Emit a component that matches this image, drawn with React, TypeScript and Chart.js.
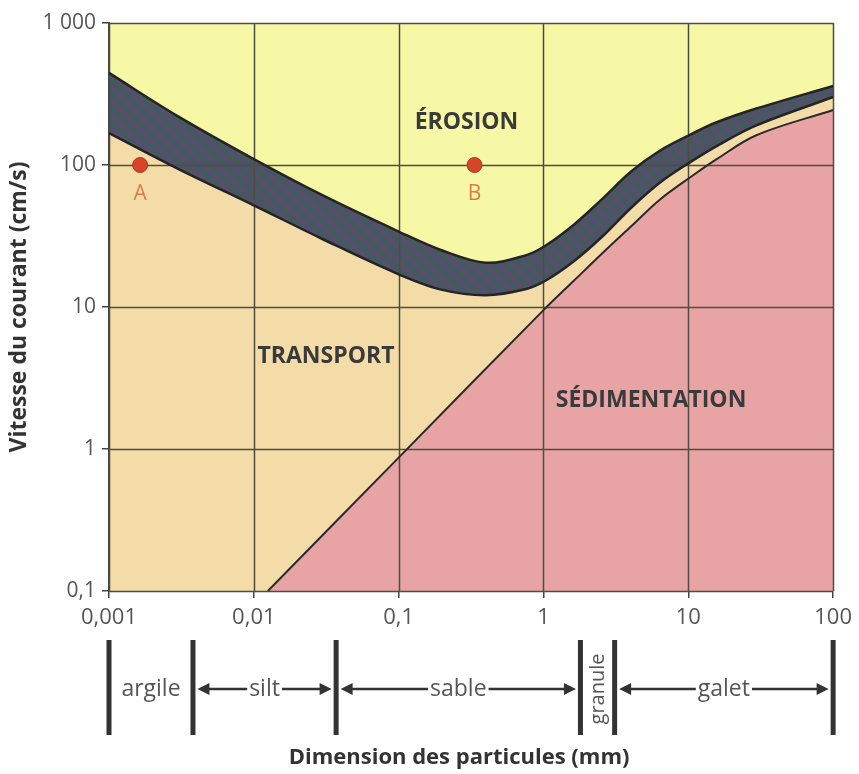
import React, { useEffect, useRef } from "react";
import { Chart, registerables } from "chart.js";

Chart.register(...registerables);

// ---- Data ----
const xTickValues = [0.001, 0.01, 0.1, 1, 10, 100];
const xTickLabels = ["0,001", "0,01", "0,1", "1", "10", "100"];
const yTickValues = [0.1, 1, 10, 100, 1000];
const yTickLabels = ["0,1", "1", "10", "100", "1 000"];

// Erosion band (cm/s) vs particle diameter (mm)
const bandD = [0.001, 0.003, 0.01, 0.03, 0.1, 0.2, 0.4, 0.76, 1.03, 1.62, 2.56, 4.03, 6.35, 10.5, 15.7, 29.5, 100];
const bandTopV = [445, 220, 110, 61, 34, 25, 20.5, 23.2, 27, 38, 58, 90, 126, 165, 200, 250, 360];
const bandBottomV = [168, 94, 52, 30, 17, 13.2, 12.1, 13.4, 15.3, 21, 31.5, 50, 75, 106, 136, 190, 301];

// Sedimentation limit
const sedD = [0.0125, 0.1, 1, 1.62, 2.56, 4.03, 6.35, 10.5, 15.7, 29.5, 100];
const sedV = [0.1, 0.87, 9.5, 15.3, 24, 37, 57, 83, 110, 162, 244];

// Example points
const pointNames = ["A", "B"];
const pointD = [0.00164, 0.334];
const pointV = [100, 100];

// Region labels
const regionNames = ["ÉROSION", "TRANSPORT", "SÉDIMENTATION"];
const regionD = [0.294, 0.0315, 5.53];
const regionV = [199, 4.48, 2.2];

// Grain size classes (mm)
const classBounds = [0.001, 0.0038, 0.037, 1.8, 3.1, 100];
const classNames = ["argile", "silt", "sable", "granule", "galet"];
const classArrows = [false, true, true, false, true];

const xTitle = "Dimension des particules (mm)";
const yTitle = "Vitesse du courant (cm/s)";

const FONT = "'Open Sans', 'DejaVu Sans', sans-serif";

function makeBandPattern(): CanvasPattern | string {
  const c = document.createElement("canvas");
  c.width = 14;
  c.height = 14;
  const g = c.getContext("2d");
  if (!g) return "#4c5064";
  g.fillStyle = "#554e6c";
  g.fillRect(0, 0, 14, 14);
  g.fillStyle = "#435a5c";
  g.beginPath();
  g.moveTo(0, 0);
  g.lineTo(7, 0);
  g.lineTo(14, 7);
  g.lineTo(14, 14);
  g.closePath();
  g.fill();
  g.beginPath();
  g.moveTo(0, 7);
  g.lineTo(7, 14);
  g.lineTo(0, 14);
  g.closePath();
  g.fill();
  const p = g.createPattern(c, "repeat");
  return p || "#4c5064";
}

const overlayPlugin = {
  id: "overlay",
  beforeDatasetsDraw(chart: any) {
    const { ctx, chartArea: a, scales } = chart;
    ctx.save();
    ctx.strokeStyle = "#4d4d40";
    ctx.lineWidth = 1.5;
    xTickValues.forEach((v) => {
      const x = Math.round(scales.x.getPixelForValue(v)) + 0.5;
      ctx.beginPath();
      ctx.moveTo(x, a.top);
      ctx.lineTo(x, a.bottom);
      ctx.stroke();
    });
    yTickValues.forEach((v) => {
      const y = Math.round(scales.y.getPixelForValue(v)) + 0.5;
      ctx.beginPath();
      ctx.moveTo(a.left, y);
      ctx.lineTo(a.right, y);
      ctx.stroke();
    });
    ctx.restore();
  },
  afterDatasetsDraw(chart: any) {
    const { ctx, scales } = chart;
    ctx.save();
    ctx.textAlign = "center";
    ctx.textBaseline = "middle";
    ctx.fillStyle = "#3a3a3a";
    ctx.font = `bold 23px ${FONT}`;
    regionNames.forEach((n, i) => {
      ctx.fillText(n, scales.x.getPixelForValue(regionD[i]), scales.y.getPixelForValue(regionV[i]));
    });
    ctx.fillStyle = "#e07a48";
    ctx.font = `21px ${FONT}`;
    pointNames.forEach((n, i) => {
      ctx.fillText(n, scales.x.getPixelForValue(pointD[i]), scales.y.getPixelForValue(pointV[i]) + 29);
    });
    ctx.restore();
  },
  afterDraw(chart: any) {
    const { ctx, chartArea: a, scales } = chart;
    const top = a.bottom + 49;
    const bottom = a.bottom + 144;
    const mid = a.bottom + 98;
    ctx.save();
    ctx.fillStyle = "#333";
    const px = classBounds.map((b) => scales.x.getPixelForValue(b));
    px.forEach((x) => ctx.fillRect(x - 2.5, top, 5, bottom - top));
    ctx.font = `23px ${FONT}`;
    ctx.textBaseline = "middle";
    ctx.textAlign = "center";
    classNames.forEach((n, i) => {
      const x0 = px[i] + 2.5;
      const x1 = px[i + 1] - 2.5;
      const cx = (x0 + x1) / 2;
      if (n === "granule") {
        ctx.save();
        ctx.translate(cx + 1, mid);
        ctx.rotate(-Math.PI / 2);
        ctx.font = `20px ${FONT}`;
        ctx.fillStyle = "#555";
        ctx.fillText(n, 0, 0);
        ctx.restore();
        return;
      }
      ctx.fillStyle = "#555";
      ctx.fillText(n, cx, mid);
      if (classArrows[i]) {
        const w = ctx.measureText(n).width;
        ctx.strokeStyle = "#333";
        ctx.fillStyle = "#333";
        ctx.lineWidth = 2.5;
        const l1 = cx - w / 2 - 2;
        const r1 = cx + w / 2 + 2;
        ctx.beginPath();
        ctx.moveTo(x0 + 8, mid);
        ctx.lineTo(l1, mid);
        ctx.moveTo(r1, mid);
        ctx.lineTo(x1 - 8, mid);
        ctx.stroke();
        ctx.beginPath();
        ctx.moveTo(x0 + 2, mid);
        ctx.lineTo(x0 + 14, mid - 6);
        ctx.lineTo(x0 + 14, mid + 6);
        ctx.closePath();
        ctx.fill();
        ctx.beginPath();
        ctx.moveTo(x1 - 2, mid);
        ctx.lineTo(x1 - 14, mid - 6);
        ctx.lineTo(x1 - 14, mid + 6);
        ctx.closePath();
        ctx.fill();
      }
    });
    // x-axis title
    ctx.fillStyle = "#333";
    ctx.font = `bold 22px ${FONT}`;
    ctx.textBaseline = "middle";
    ctx.fillText(xTitle, (a.left + a.right) / 2 - 12, chart.height - 16);
    ctx.restore();
  },
};

const bgPlugin = {
  id: "bg",
  beforeDraw(chart: any) {
    const { ctx, chartArea: a } = chart;
    ctx.save();
    ctx.fillStyle = "#ffffff";
    ctx.fillRect(0, 0, chart.width, chart.height);
    ctx.fillStyle = "#f7f8a6";
    ctx.fillRect(a.left, a.top, a.right - a.left, a.bottom - a.top);
    ctx.restore();
  },
};

export default function App() {
  const ref = useRef<HTMLCanvasElement | null>(null);
  useEffect(() => {
    document.body.style.margin = "0";
    const canvas = ref.current;
    if (!canvas) return;
    const toPts = (xs: number[], ys: number[]) => xs.map((x, i) => ({ x, y: ys[i] }));
    const curve = {
      showLine: true,
      pointRadius: 0,
      fill: "start",
      tension: 0.35,
    };
    const chart = new Chart(canvas, {
      type: "scatter",
      data: {
        datasets: [
          {
            label: "points",
            data: toPts(pointD, pointV),
            pointRadius: 7.5,
            pointBackgroundColor: "#d8442a",
            pointBorderColor: "#a53a22",
            pointBorderWidth: 1,
            showLine: false,
          },
          {
            ...curve,
            label: "sedimentation",
            data: toPts(sedD, sedV),
            borderColor: "#2a2a2a",
            borderWidth: 2,
            backgroundColor: "#e8a3a5",
          },
          {
            ...curve,
            label: "band bottom",
            data: toPts(bandD, bandBottomV),
            borderColor: "#242424",
            borderWidth: 2.5,
            backgroundColor: "#f3dca8",
          },
          {
            ...curve,
            label: "band top",
            data: toPts(bandD, bandTopV),
            borderColor: "#242424",
            borderWidth: 2.5,
            backgroundColor: makeBandPattern() as any,
          },
        ],
      },
      options: {
        animation: false,
        responsive: false,
        layout: { padding: { left: 0, top: 23, right: 24, bottom: 0 } },
        plugins: {
          legend: { display: false },
          tooltip: { enabled: false },
          filler: { drawTime: "beforeDatasetsDraw" },
        } as any,
        scales: {
          x: {
            type: "logarithmic",
            min: 0.001,
            max: 100,
            afterBuildTicks: (axis: any) => {
              axis.ticks = xTickValues.map((v) => ({ value: v }));
            },
            afterFit: (s: any) => {
              s.height = 183;
            },
            ticks: {
              autoSkip: false,
              maxRotation: 0,
              padding: 7,
              color: "#555",
              font: { size: 22, family: FONT },
              callback: (_v: any, i: number) => xTickLabels[i],
            },
            grid: { drawOnChartArea: false, drawTicks: true, tickLength: 7, color: "#444", lineWidth: 1.5 },
            border: { display: true, color: "#444", width: 2 },
            title: { display: false },
          },
          y: {
            type: "logarithmic",
            min: 0.1,
            max: 1000,
            afterBuildTicks: (axis: any) => {
              axis.ticks = yTickValues.map((v) => ({ value: v }));
            },
            afterFit: (s: any) => {
              s.width = 109;
            },
            ticks: {
              autoSkip: false,
              padding: 6,
              color: "#555",
              font: { size: 21, family: FONT },
              callback: (_v: any, i: number) => yTickLabels[i],
            },
            grid: { drawOnChartArea: false, drawTicks: true, tickLength: 7, color: "#444", lineWidth: 1.5 },
            border: { display: true, color: "#444", width: 2 },
            title: {
              display: true,
              text: yTitle,
              color: "#333",
              font: { size: 23, weight: "bold", family: FONT },
              padding: { top: 6, bottom: 0 },
            },
          },
        },
      } as any,
      plugins: [bgPlugin, overlayPlugin],
    });
    return () => chart.destroy();
  }, []);
  return (
    <div style={{ width: 859, height: 774 }}>
      <canvas ref={ref} width={859} height={774} />
    </div>
  );
}
